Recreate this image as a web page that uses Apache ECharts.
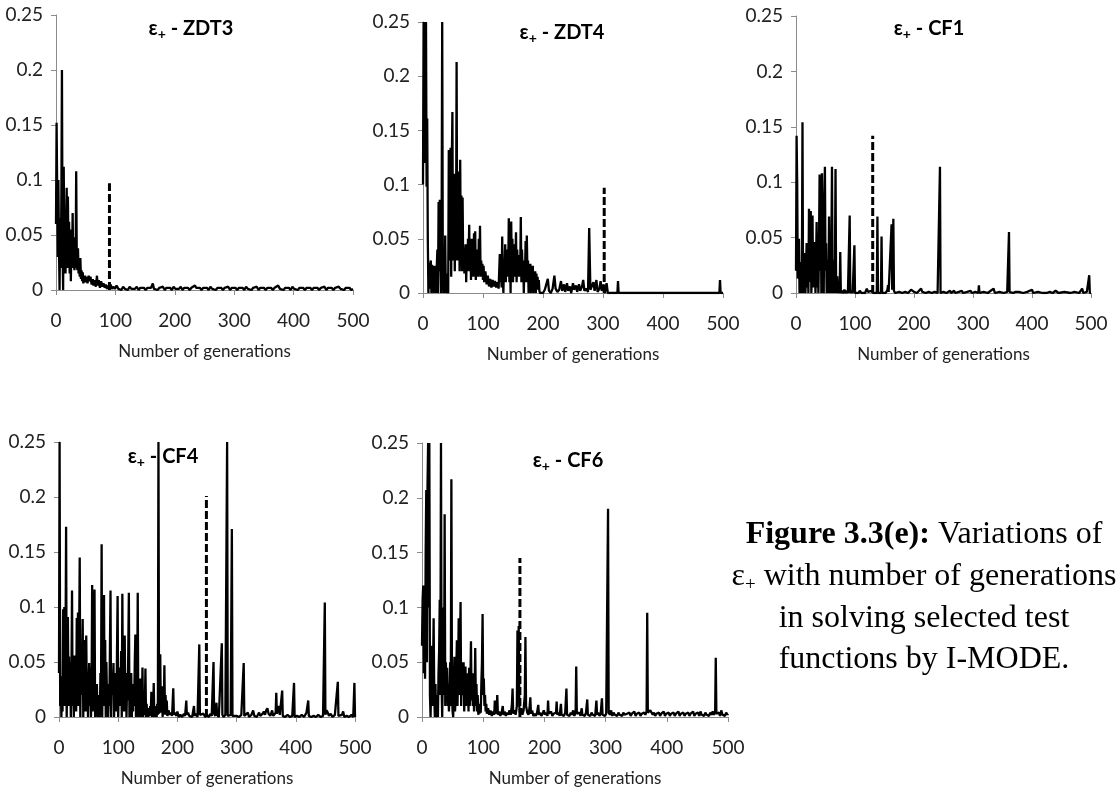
<!DOCTYPE html>
<html>
<head>
<meta charset="utf-8">
<script src="https://cdn.jsdelivr.net/npm/echarts@6/dist/echarts.min.js"></script>
<style>
  html, body { margin: 0; padding: 0; background: #fff; }
  #chart { width: 1116px; height: 791px; }
</style>
</head>
<body>
<div id="chart"></div>
<script>
// Test problems shown in the five panels
const problems = ['ZDT3', 'ZDT4', 'CF1', 'CF4', 'CF6'];

// epsilon+ indicator per generation: [generation, value]
const zdt3 = [
  [0,0.06],[1,0.152],[2,0.09],[3,0.03],[4,0.1],[5,0.04],[6,0],[7,0.065],[8,0.02],[9,0.08],
  [10,0.2],[11,0.04],[12,0],[13,0.112],[14,0.03],[15,0.07],[16,0.015],[17,0.06],[18,0.093],[19,0.02],
  [20,0.085],[21,0.03],[22,0.062],[23,0.015],[24,0.055],[25,0.008],[26,0.045],[27,0.02],[28,0.07],[29,0.022],
  [30,0.048],[31,0.018],[32,0.03],[33,0.02],[34,0.108],[35,0.025],[36,0.018],[37,0.038],[38,0.015],[39,0.022],
  [40,0.012],[41,0.029],[42,0.01],[43,0.018],[44,0.008],[45,0.016],[46,0.006],[47,0.012],[48,0.009],[49,0.013],
  [50,0.007],[52,0.012],[53,0.006],[55,0.013],[56,0.008],[58,0.012],[60,0.005],[62,0.01],[63,0.004],[65,0.009],
  [67,0.003],[69,0.013],[70,0.004],[72,0.009],[74,0.002],[76,0.008],[78,0.003],[80,0.006],[82,0.002],[84,0.005],
  [86,0.001],[88,0.004],[90,0.002],[92,0.005],[94,0.001],[97,0.003],[99,0.001],[102,0.004],[105,0.001],[107,0.002],
  [110,0],[113,0.003],[116,0.001],[118,0.002],[121,0],[124,0.003],[127,0.001],[130,0.002],[133,0.001],[136,0.003],
  [139,0],[142,0.002],[145,0.001],[148,0.002],[151,0],[154,0.002],[157,0.001],[160,0.002],[163,0.006],[165,0.001],
  [168,0.002],[171,0],[174,0.002],[177,0.001],[180,0.003],[183,0],[186,0.002],[189,0.001],[192,0.002],[195,0],
  [198,0.003],[201,0.001],[204,0.002],[207,0.001],[210,0.003],[213,0],[216,0.002],[219,0.001],[222,0.002],[225,0],
  [228,0.002],[231,0.001],[234,0.004],[236,0.002],[239,0.001],[242,0.002],[245,0],[248,0.002],[251,0.001],[254,0.002],
  [257,0],[260,0.003],[263,0.001],[266,0.002],[269,0],[272,0.002],[275,0.001],[278,0.002],[281,0],[284,0.002],
  [287,0.001],[290,0.003],[293,0],[296,0.002],[299,0.001],[302,0.002],[305,0],[308,0.002],[311,0.001],[314,0.002],
  [317,0],[320,0.003],[323,0.001],[326,0.002],[329,0],[332,0.002],[335,0.001],[338,0.003],[341,0],[344,0.002],
  [347,0.001],[350,0.002],[353,0],[356,0.002],[359,0.001],[362,0.002],[365,0],[368,0.002],[371,0.001],[374,0.004],
  [377,0.001],[380,0.002],[383,0],[386,0.002],[389,0.001],[392,0.002],[395,0],[398,0.003],[401,0.001],[404,0.002],
  [407,0],[410,0.002],[413,0.001],[416,0.002],[419,0],[422,0.002],[425,0.001],[428,0.002],[431,0],[434,0.002],
  [437,0.001],[440,0.002],[443,0],[446,0.002],[449,0.001],[452,0.003],[455,0],[458,0.002],[461,0.001],[464,0.002],
  [467,0],[470,0.002],[473,0.001],[476,0.003],[479,0.001],[482,0.002],[485,0],[488,0.002],[491,0.001],[494,0.002],
  [497,0],[500,0.001]
];

const zdt4 = [
  [0,0.1],[1,0.25],[2,0.12],[3,0.25],[4,0.17],[5,0.25],[6,0.098],[7,0.161],[8,0.05],[9,0],
  [10,0.028],[11,0.004],[12,0.025],[13,0.03],[14,0],[15,0.026],[16,0.01],[17,0.022],[18,0],[19,0.025],
  [20,0.004],[21,0.02],[22,0],[23,0.025],[24,0.04],[25,0],[26,0.084],[27,0.02],[28,0.086],[29,0.035],
  [30,0],[31,0.05],[32,0.25],[33,0.03],[34,0],[35,0.022],[36,0],[37,0.053],[38,0],[39,0.018],
  [40,0],[41,0.002],[42,0],[43,0.132],[44,0.03],[45,0.1],[46,0.134],[47,0.015],[48,0.12],[49,0.167],
  [50,0.03],[51,0.09],[52,0.11],[53,0.02],[54,0.1],[55,0.04],[56,0.213],[57,0.03],[58,0.112],[59,0.05],
  [60,0.1],[61,0.02],[62,0.123],[63,0.03],[64,0.09],[65,0.02],[66,0.088],[67,0.025],[68,0.04],[69,0.018],
  [70,0.035],[71,0.045],[72,0.01],[73,0.04],[74,0.02],[75,0.05],[76,0.03],[77,0.063],[78,0.02],[79,0.045],
  [80,0.012],[81,0.05],[82,0.025],[83,0.04],[84,0.015],[85,0.055],[86,0.02],[87,0.057],[88,0.012],[89,0.04],
  [90,0.02],[91,0.035],[92,0.015],[93,0.05],[94,0.02],[95,0.062],[96,0.015],[97,0.03],[98,0.018],[99,0.027],
  [100,0.012],[101,0.025],[102,0.01],[104,0.02],[106,0.008],[108,0.016],[110,0.006],[112,0.013],[114,0.005],[116,0.012],
  [118,0.006],[120,0.011],[122,0.005],[124,0.01],[126,0.004],[128,0.036],[129,0.01],[130,0.03],[131,0.005],[132,0.052],
  [133,0.015],[134,0],[135,0.03],[136,0.02],[137,0.045],[138,0.01],[139,0.035],[140,0.015],[141,0.04],[142,0.02],
  [143,0.069],[144,0.01],[145,0.04],[146,0],[147,0.066],[148,0.02],[149,0.05],[150,0.01],[151,0.035],[152,0.045],
  [153,0.015],[154,0.03],[155,0.056],[156,0.01],[157,0.04],[158,0.02],[159,0.03],[160,0.015],[161,0.035],[162,0.02],
  [163,0.07],[164,0.01],[165,0.04],[166,0.02],[167,0.03],[168,0],[169,0.025],[170,0.015],[171,0.048],[172,0.01],
  [173,0.053],[174,0.02],[175,0.03],[176,0],[177,0.02],[178,0.01],[179,0.027],[180,0],[181,0.022],[182,0.005],
  [183,0.025],[184,0],[185,0.018],[186,0.005],[187,0.02],[188,0],[189,0.018],[190,0.004],[191,0.015],[192,0.003],
  [193,0.012],[194,0.002],[195,0],[198,0.001],[200,0],[203,0.003],[206,0.002],[208,0.013],[210,0.002],[213,0],
  [216,0.004],[219,0.016],[221,0.004],[224,0.001],[227,0.003],[230,0.011],[232,0.002],[235,0.008],[237,0.001],[240,0.009],
  [242,0.002],[245,0.006],[247,0],[250,0.009],[252,0.003],[255,0.007],[257,0.001],[260,0.008],[262,0.002],[265,0.006],
  [267,0.012],[269,0.002],[272,0.004],[275,0.001],[277,0.06],[279,0.003],[282,0.002],[284,0.01],[286,0.002],[289,0.012],
  [291,0.001],[294,0.004],[296,0.011],[298,0.002],[301,0.008],[303,0],[306,0.009],[308,0],[324,0],[325,0.011],
  [326,0],[494,0],[495,0.012],[496,0],[500,0]
];

const cf1 = [
  [0,0.02],[1,0.142],[2,0.1],[3,0.013],[4,0.03],[5,0.049],[6,0],[7,0.028],[8,0.01],[9,0],
  [10,0.02],[11,0.154],[12,0],[13,0.025],[14,0.005],[15,0.036],[16,0],[17,0.02],[18,0.045],[19,0.005],
  [20,0.03],[21,0],[22,0.076],[23,0.01],[24,0.04],[25,0.074],[26,0],[27,0.02],[28,0.07],[29,0.005],
  [30,0.045],[31,0.01],[32,0.046],[33,0],[34,0.03],[35,0.064],[36,0.005],[37,0.02],[38,0],[39,0.045],
  [40,0.107],[41,0.02],[42,0.085],[43,0],[44,0.108],[45,0.03],[46,0.06],[47,0],[48,0.085],[49,0.114],
  [50,0.02],[51,0.045],[52,0],[53,0.01],[54,0.03],[55,0],[56,0.069],[57,0.005],[58,0.02],[59,0],
  [60,0.045],[61,0.114],[62,0.01],[63,0],[64,0.03],[65,0],[66,0.025],[67,0.112],[68,0.005],[69,0],
  [70,0.015],[71,0],[72,0.004],[74,0],[75,0.037],[76,0],[78,0.002],[80,0],[82,0.003],[84,0],
  [86,0.002],[88,0],[90,0.001],[91,0.07],[92,0],[94,0.002],[96,0],[98,0.001],[99,0.043],[100,0],
  [103,0.001],[106,0],[108,0.002],[111,0],[114,0.001],[117,0],[120,0.004],[122,0.001],[125,0],[128,0.002],
  [131,0],[134,0.001],[137,0],[138,0.069],[139,0],[142,0.001],[144,0],[145,0.051],[146,0],[149,0.001],
  [152,0],[155,0.003],[156,0.007],[157,0.001],[160,0],[162,0.062],[163,0.003],[165,0.067],[166,0.002],[168,0],
  [171,0.001],[175,0.001],[180,0],[185,0.001],[190,0],[195,0.003],[197,0.002],[200,0.001],[205,0],[212,0.004],
  [214,0.001],[220,0],[225,0.001],[230,0],[235,0.001],[240,0],[243,0],[244,0.114],[245,0],[250,0.001],
  [255,0],[261,0.002],[263,0],[268,0.002],[270,0],[276,0.001],[281,0.002],[283,0],[290,0.001],[296,0.002],
  [298,0],[304,0.001],[309,0],[310,0.007],[311,0],[318,0.001],[325,0],[330,0.002],[335,0.004],[337,0],
  [345,0.001],[352,0],[358,0.001],[360,0],[361,0.055],[362,0.001],[368,0],[372,0.001],[378,0.001],[385,0],
  [392,0.001],[400,0.003],[402,0],[410,0.001],[418,0],[421,0.001],[425,0],[430,0.001],[435,0],[440,0.002],
  [445,0],[455,0.001],[465,0],[472,0.001],[480,0],[485,0.004],[487,0],[493,0.001],[496,0],[497,0.016],
  [498,0],[500,0]
];

const cf4 = [
  [0,0.04],[1,0.25],[2,0.01],[3,0.037],[4,0],[5,0.03],[6,0.005],[7,0.098],[8,0.02],[9,0.1],
  [10,0.01],[11,0.06],[12,0.173],[13,0],[14,0.05],[15,0.091],[16,0.01],[17,0.055],[18,0.02],[19,0.05],
  [20,0],[21,0.035],[22,0.115],[23,0.01],[24,0.055],[25,0],[26,0.056],[27,0.02],[28,0.055],[29,0.005],
  [30,0.09],[31,0.02],[32,0.095],[33,0.01],[34,0.07],[35,0.145],[36,0],[37,0.06],[38,0.02],[39,0.05],
  [40,0.089],[41,0],[42,0.045],[43,0.02],[44,0.07],[45,0.005],[46,0.074],[47,0.02],[48,0.04],[49,0],
  [50,0.03],[51,0.049],[52,0.01],[53,0.045],[54,0],[55,0.02],[56,0.12],[57,0.005],[58,0.06],[59,0.02],
  [60,0.116],[61,0],[62,0.03],[63,0.01],[64,0.03],[65,0],[66,0.02],[67,0.005],[68,0.012],[69,0],
  [70,0.04],[71,0.02],[72,0.157],[73,0],[74,0.06],[75,0.02],[76,0.111],[77,0.01],[78,0.07],[79,0],
  [80,0.05],[81,0.02],[82,0.03],[83,0],[84,0.02],[85,0.01],[86,0.06],[87,0.115],[88,0],[89,0.04],
  [90,0.02],[91,0.03],[92,0.049],[93,0],[94,0.02],[95,0.01],[96,0.04],[97,0.005],[98,0.06],[99,0.11],
  [100,0],[101,0.03],[102,0.01],[103,0.045],[104,0.02],[105,0.06],[106,0],[107,0.112],[108,0.02],[109,0.05],
  [110,0.005],[111,0.074],[112,0.01],[113,0.04],[114,0],[115,0.03],[116,0.015],[117,0.06],[118,0.113],[119,0],
  [120,0.035],[121,0.01],[122,0.04],[123,0],[124,0.02],[125,0.005],[126,0.03],[127,0.01],[128,0.05],[129,0.075],
  [130,0],[131,0.04],[132,0.02],[133,0.113],[134,0],[135,0.03],[136,0.01],[137,0.035],[138,0],[139,0.02],
  [140,0.005],[141,0.045],[142,0],[143,0.015],[144,0.002],[145,0.01],[146,0.044],[147,0],[148,0.012],[149,0.002],
  [150,0.008],[151,0],[152,0.005],[153,0.001],[154,0.01],[155,0.002],[156,0.023],[157,0],[158,0.008],[159,0.002],
  [160,0.031],[161,0],[162,0.006],[163,0.001],[164,0.01],[165,0],[166,0.012],[167,0.002],[168,0.25],[169,0.003],
  [170,0.02],[171,0.057],[172,0.004],[173,0.015],[174,0.028],[175,0],[176,0.012],[177,0.005],[178,0.047],[179,0.002],
  [180,0.02],[181,0.005],[182,0.015],[183,0.001],[185,0.006],[187,0.002],[189,0.004],[191,0.001],[193,0.026],[194,0.002],
  [196,0.004],[198,0.001],[200,0.005],[202,0],[205,0.002],[208,0],[211,0.003],[213,0.001],[215,0.015],[216,0.002],
  [218,0.004],[220,0.001],[223,0.002],[225,0],[228,0.01],[229,0.001],[232,0.003],[234,0],[237,0.066],[238,0.002],
  [241,0.001],[244,0.003],[247,0],[250,0.002],[253,0],[256,0.003],[258,0.001],[261,0.05],[262,0.003],[264,0.001],
  [266,0.013],[267,0.002],[270,0],[273,0.001],[275,0.067],[276,0.002],[278,0],[281,0.002],[284,0.25],[285,0.001],
  [288,0],[290,0.002],[292,0.171],[293,0.001],[296,0],[300,0.001],[304,0],[308,0.002],[312,0.049],[313,0.001],
  [316,0.002],[319,0.004],[321,0],[325,0.002],[328,0.006],[330,0.001],[334,0],[338,0.004],[340,0.001],[344,0.003],
  [346,0.005],[348,0.002],[350,0.006],[352,0.008],[354,0.003],[357,0.001],[360,0.006],[362,0.001],[366,0.004],[367,0.022],
  [368,0.003],[371,0.01],[373,0.002],[377,0.024],[378,0.001],[382,0],[386,0.002],[390,0],[394,0.001],[397,0.031],
  [398,0],[402,0.001],[406,0],[410,0.002],[414,0],[418,0.004],[421,0.015],[422,0.001],[426,0],[430,0.001],
  [434,0],[438,0.002],[442,0],[446,0.001],[449,0.104],[450,0.002],[452,0.006],[454,0.004],[456,0.001],[459,0.003],
  [462,0],[466,0.002],[471,0.032],[472,0.001],[475,0],[478,0.002],[480,0.005],[482,0],[486,0.001],[490,0],
  [494,0.002],[497,0],[499,0.031],[500,0]
];

const cf6 = [
  [0,0.065],[1,0.107],[2,0.12],[3,0.04],[4,0.1],[5,0.035],[6,0.15],[7,0.207],[8,0.05],[9,0.21],
  [10,0.25],[11,0.1],[12,0.25],[13,0.02],[14,0],[15,0.03],[16,0.065],[17,0.01],[18,0.04],[19,0.09],
  [20,0.02],[21,0],[22,0.03],[23,0],[24,0.005],[25,0.02],[26,0],[27,0.04],[28,0.06],[29,0.107],
  [30,0.02],[31,0.25],[32,0.03],[33,0],[34,0.04],[35,0.1],[36,0.02],[37,0.185],[38,0.01],[39,0.05],
  [40,0.02],[41,0.045],[42,0.01],[43,0.03],[44,0.005],[45,0.02],[46,0.05],[47,0.01],[48,0.217],[49,0.02],
  [50,0.005],[51,0],[52,0.03],[53,0.055],[54,0.005],[55,0.02],[56,0.04],[57,0.07],[58,0.01],[59,0.045],
  [60,0.09],[61,0.02],[62,0.06],[63,0.105],[64,0.01],[65,0.05],[66,0.03],[67,0.02],[68,0.05],[69,0.005],
  [70,0.03],[71,0.046],[72,0.01],[73,0.035],[74,0.02],[75,0.04],[76,0.005],[77,0.045],[78,0.01],[79,0.03],
  [80,0.069],[81,0.015],[82,0.03],[83,0.01],[84,0.04],[85,0.005],[86,0.02],[87,0.063],[88,0.01],[89,0.03],
  [90,0.005],[91,0.02],[92,0.002],[93,0.01],[94,0.003],[95,0.012],[96,0.004],[97,0.03],[98,0.05],[99,0.094],
  [100,0.02],[101,0.035],[102,0.01],[103,0.02],[104,0.005],[105,0.012],[106,0.003],[108,0.008],[110,0.002],[112,0.006],
  [114,0.001],[116,0.005],[118,0.002],[119,0.015],[120,0.003],[122,0.006],[123,0.02],[124,0.002],[126,0.005],[128,0.001],
  [130,0.004],[132,0.01],[133,0.002],[135,0.005],[137,0.001],[139,0.004],[141,0.002],[143,0.006],[145,0.002],[147,0.012],
  [148,0.026],[149,0.003],[151,0.006],[153,0.002],[155,0.01],[156,0.079],[157,0.04],[158,0.083],[159,0.01],[160,0.004],
  [162,0.008],[164,0.002],[166,0.006],[168,0.02],[169,0.073],[170,0.01],[172,0.004],[174,0.002],[176,0.01],[177,0.018],
  [178,0.003],[180,0.006],[182,0.001],[184,0.003],[186,0.001],[188,0.004],[190,0.011],[191,0.002],[193,0.004],[195,0.001],
  [197,0.003],[199,0.006],[201,0.002],[203,0.004],[205,0.001],[206,0.015],[207,0.003],[209,0.002],[211,0.005],[213,0.001],
  [215,0.003],[217,0.002],[219,0.004],[220,0.014],[221,0.002],[223,0.004],[225,0.001],[227,0.012],[228,0.002],[230,0.003],
  [232,0.001],[234,0.004],[236,0.026],[237,0.002],[239,0.003],[241,0.001],[243,0.004],[245,0.002],[247,0.006],[249,0.001],
  [251,0.004],[252,0.046],[253,0.003],[255,0.002],[257,0.004],[259,0.001],[261,0.008],[262,0.002],[264,0.003],[266,0.001],
  [268,0.004],[270,0.016],[271,0.002],[273,0.003],[275,0.001],[277,0.004],[279,0.002],[281,0.003],[283,0.001],[285,0.015],
  [286,0.002],[288,0.004],[290,0.001],[292,0.003],[294,0.017],[295,0.002],[297,0.003],[299,0.001],[301,0.003],[303,0.002],
  [304,0.19],[305,0.004],[307,0.002],[309,0.006],[311,0.001],[313,0.004],[315,0.002],[317,0.003],[319,0.001],[321,0.004],
  [323,0.002],[325,0.003],[327,0.001],[329,0.004],[331,0.002],[333,0.001],[335,0.003],[337,0.002],[339,0.004],[341,0.001],
  [343,0.003],[345,0.002],[347,0.005],[349,0.001],[351,0.003],[353,0.002],[355,0.004],[357,0.001],[359,0.003],[361,0.002],
  [363,0.004],[365,0.002],[367,0.005],[368,0.095],[369,0.004],[371,0.003],[373,0.006],[375,0.007],[377,0.002],[379,0.004],
  [381,0.001],[383,0.003],[385,0.002],[387,0.004],[389,0.001],[391,0.003],[393,0.002],[395,0.005],[397,0.001],[399,0.003],
  [401,0.002],[403,0.004],[405,0.001],[407,0.003],[409,0.002],[411,0.004],[413,0.001],[415,0.003],[417,0.002],[419,0.005],
  [421,0.001],[423,0.003],[425,0.002],[427,0.004],[429,0.001],[431,0.003],[433,0.002],[435,0.004],[437,0.001],[439,0.003],
  [441,0.002],[443,0.005],[445,0.001],[447,0.003],[449,0.002],[451,0.004],[453,0.001],[455,0.005],[457,0.002],[459,0.003],
  [461,0.001],[463,0.004],[465,0.002],[467,0.003],[469,0.001],[471,0.004],[473,0.002],[475,0.005],[477,0.002],[479,0.004],
  [480,0.054],[481,0.003],[483,0.002],[485,0.004],[487,0.001],[489,0.006],[491,0.002],[493,0.003],[495,0.001],[497,0.004],
  [499,0.002],[500,0.003]
];

const seriesData = [zdt3, zdt4, cf1, cf4, cf6];

// Dashed marker per panel: generation and height
const markerGen = [90, 302, 130, 249, 160];
const markerTop = [0.097, 0.097, 0.142, 0.201, 0.145];

// Axis ranges and ticks
const xMin = 0, xMax = 500, xStep = 100;
const yMin = 0, yMax = 0.25, yStep = 0.05;
const xAxisTitle = 'Number of generations';

// Caption lines
const captionLines = [
  '{b|Figure 3.3(e):}{n| Variations of}',
  '{n|ε}{s|+}{n| with number of generations}',
  '{n|in solving selected test}',
  '{n|functions by I-MODE.}'
];

// Plot-area layout per panel
const grids = [
  { left: 56,  top: 15,  width: 297, height: 275 },
  { left: 423, top: 22,  width: 300, height: 271 },
  { left: 796, top: 16,  width: 295, height: 277 },
  { left: 59,  top: 442, width: 296, height: 275 },
  { left: 422, top: 443, width: 306, height: 274 }
];
const titleAt = [[191, 29], [562, 33], [929, 29], [163, 457], [568, 461]];

const axisGrey = '#8c8c8c';
const labelFont = 'Lato, "Open Sans", sans-serif';

const chart = echarts.init(document.getElementById('chart'), null, { renderer: 'canvas' });

const xAxes = [], yAxes = [], series = [], graphics = [];
grids.forEach((g, i) => {
  xAxes.push({
    gridIndex: i, type: 'value', min: xMin, max: xMax, interval: xStep,
    axisLine: { show: true, onZero: false, lineStyle: { color: axisGrey, width: 1 } },
    axisTick: { show: true, length: 5, lineStyle: { color: axisGrey } },
    axisLabel: { margin: 21, fontFamily: labelFont, fontSize: 19, color: '#222' },
    splitLine: { show: false },
    name: xAxisTitle, nameLocation: 'middle', nameGap: 53,
    nameTextStyle: { fontFamily: labelFont, fontSize: 17, color: '#222' }
  });
  yAxes.push({
    gridIndex: i, type: 'value', min: yMin, max: yMax, interval: yStep,
    axisLine: { show: true, lineStyle: { color: axisGrey, width: 1 } },
    axisTick: { show: true, length: 5, lineStyle: { color: axisGrey } },
    axisLabel: { margin: 13, fontFamily: labelFont, fontSize: 19, color: '#222' },
    splitLine: { show: false }
  });
  series.push({
    type: 'line', xAxisIndex: i, yAxisIndex: i, data: seriesData[i],
    showSymbol: false, clip: true, silent: true, z: 3,
    lineStyle: { color: '#000', width: 2.3 }
  });
  series.push({
    type: 'line', xAxisIndex: i, yAxisIndex: i,
    data: [[markerGen[i], 0], [markerGen[i], markerTop[i]]],
    showSymbol: false, silent: true, z: 4,
    lineStyle: { color: '#000', width: 3, type: [8, 3] }
  });
  graphics.push({
    type: 'text', x: titleAt[i][0], y: titleAt[i][1], z: 1,
    style: {
      text: '{e|ε}{s|+}{t| - ' + problems[i] + '}',
      align: 'center', verticalAlign: 'middle',
      textAlign: 'center', textVerticalAlign: 'middle',
      rich: {
        e: { fontFamily: labelFont, fontWeight: 'bold', fontSize: 20, lineHeight: 24, fill: '#000', color: '#000' },
        s: { fontFamily: labelFont, fontWeight: 'bold', fontSize: 14, lineHeight: 10, verticalAlign: 'bottom', fill: '#000', color: '#000' },
        t: { fontFamily: labelFont, fontWeight: 'bold', fontSize: 20, lineHeight: 24, fill: '#000', color: '#000' }
      }
    }
  });
});

const capFont = '"Liberation Serif", "Times New Roman", serif';
const capY = [535, 577, 619, 660];
captionLines.forEach((line, k) => {
  graphics.push({
    type: 'text', x: 924, y: capY[k],
    style: {
      text: line,
      align: 'center', verticalAlign: 'middle',
      textAlign: 'center', textVerticalAlign: 'middle',
      rich: {
        b: { fontFamily: capFont, fontWeight: 'bold', fontSize: 32, lineHeight: 36, fill: '#000', color: '#000' },
        n: { fontFamily: capFont, fontSize: 32, lineHeight: 36, fill: '#000', color: '#000' },
        s: { fontFamily: capFont, fontSize: 19, lineHeight: 14, verticalAlign: 'bottom', fill: '#000', color: '#000' }
      }
    }
  });
});

chart.setOption({
  animation: false,
  backgroundColor: '#fff',
  grid: grids.map(g => Object.assign({ containLabel: false }, g)),
  xAxis: xAxes,
  yAxis: yAxes,
  series: series,
  graphic: graphics
});
</script>
</body>
</html>
